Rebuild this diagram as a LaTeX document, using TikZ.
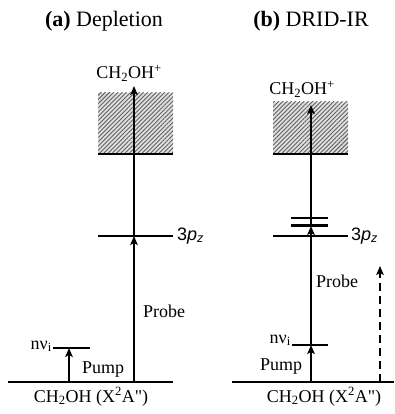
\documentclass[tikz,border=0pt]{standalone}
\usepackage{fontspec}
\setmainfont{Liberation Serif}
\setsansfont{Liberation Sans}
\newfontfamily\rawserif{Liberation Serif}
\usetikzlibrary{arrows.meta,patterns.meta}

\begin{document}
\begin{tikzpicture}[x=1pt,y=-1pt,
    level/.style={line width=2.8pt},
    trans/.style={line width=1.8pt,-{Stealth[length=9pt,width=7.5pt,inset=2pt]}},
    lbl/.style={font=\fontsize{18}{20}\selectfont,inner sep=0pt},
    ttl/.style={font=\fontsize{22}{26}\selectfont,inner sep=0pt},
    cont/.style={pattern={Lines[angle=45,distance=3pt,line width=0.9pt]},pattern color=gray!75!black}]
  \useasboundingbox (0,0) rectangle (394,414);
  %% titles
  \node[ttl,anchor=base] (ta) at (104,27) {\textbf{(a)} Depletion};
  \node[ttl,anchor=base] (tb) at (311,27) {\textbf{(b)} DRID-IR};

  %% (a) Depletion
  \fill[gray!25] (98,93) rectangle (173,154);
  \fill[cont] (98,93) rectangle (173,154);
  \coordinate (ga) at (134,382);
  \coordinate (pa) at (69,382);
  \coordinate (nva) at (69,348);
  \coordinate (pza) at (134,236);
  \coordinate (topa) at (134,86);
  \draw[level] (8,382) -- (173,382);
  \draw[level] (53,348) -- (90,348);
  \draw[level] (98,236) -- (173,236);
  \draw[level] (98,154) -- (173,154);
  \draw[trans] (pa) -- (nva);
  \draw[trans] (ga) -- (pza);
  \draw[trans] (pza) -- (topa);
  \node[lbl,anchor=base] (iona) at (129,79) {CH\textsubscript{2}OH\textsuperscript{+}};
  \node[lbl,anchor=base west] (rya) at (177,240) {\sffamily 3\textit{p}\textsubscript{\textit{z}}};
  \node[lbl,anchor=base west] (proba) at (143,317) {Probe};
  \node[lbl,anchor=base west] (pumpa) at (82,373) {Pump};
  \node[lbl,anchor=base east] (viba) at (52,349) {nν\textsubscript{i}};
  \node[lbl,anchor=base] (gsa) at (91,402) {CH\textsubscript{2}OH (X\textsuperscript{2}A{\rawserif "})};

  %% (b) DRID-IR
  \fill[gray!25] (273,102) rectangle (348,154);
  \fill[cont] (273,102) rectangle (348,154);
  \coordinate (gb) at (311,382);
  \coordinate (nvb) at (311,345);
  \coordinate (pzb) at (311,226);
  \coordinate (topb) at (311,105);
  \coordinate (irb) at (380,382);
  \coordinate (irtop) at (380,266);
  \draw[level] (232,382) -- (394,382);
  \draw[level] (292,345) -- (328,345);
  \draw[level] (273,236) -- (348,236);
  \draw[level,line width=2.2pt] (291,218) -- (328,218);
  \draw[level,line width=2.2pt] (291,225.5) -- (328,225.5);
  \draw[level] (273,154) -- (348,154);
  \draw[trans] (gb) -- (nvb);
  \draw[trans] (nvb) -- (pzb);
  \draw[trans] (pzb) -- (topb);
  \draw[trans,dash pattern=on 8pt off 5pt] (irb) -- (irtop);
  \node[lbl,anchor=base] (ionb) at (302,95) {CH\textsubscript{2}OH\textsuperscript{+}};
  \node[lbl,anchor=base west] (ryb) at (351,240) {\sffamily 3\textit{p}\textsubscript{\textit{z}}};
  \node[lbl,anchor=base west] (probb) at (316,287) {Probe};
  \node[lbl,anchor=base west] (pumpb) at (260,370) {Pump};
  \node[lbl,anchor=base east] (vibb) at (291,343) {nν\textsubscript{i}};
  \node[lbl,anchor=base] (gsb) at (324,402) {CH\textsubscript{2}OH (X\textsuperscript{2}A{\rawserif "})};
\end{tikzpicture}
\end{document}
